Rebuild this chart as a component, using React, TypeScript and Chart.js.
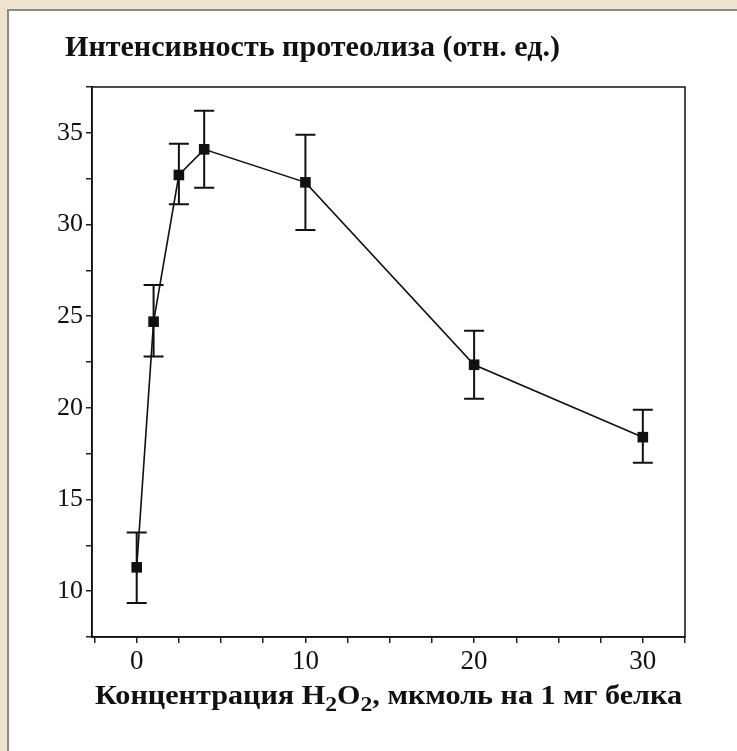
import React, { useEffect, useRef } from "react";
import { Chart, registerables } from "chart.js";

Chart.register(...registerables);

const X_VALUES = [0, 1, 2.5, 4, 10, 20, 30];
const Y_VALUES = [11.3, 24.7, 32.7, 34.1, 32.3, 22.35, 18.4];
const Y_UPPER = [13.2, 26.7, 34.4, 36.2, 34.9, 24.2, 19.9];
const Y_LOWER = [9.35, 22.8, 31.1, 32.0, 29.7, 20.5, 17.0];
const X_TICK_LABELS = [0, 10, 20, 30];
const Y_TICK_LABELS = [10, 15, 20, 25, 30, 35];
const X_MINOR_STEP = 2.5;
const Y_MINOR_STEP = 2.5;
const TITLE = "Интенсивность протеолиза (отн. ед.)";
const XTITLE_PARTS: [string, boolean][] = [
  ["Концентрация H", false],
  ["2", true],
  ["O", false],
  ["2", true],
  [", мкмоль на 1 мг белка", false],
];

const SERIF = "'Liberation Serif', 'Times New Roman', serif";

const decor = {
  id: "decor",
  beforeDatasetsDraw(chart: any) {
    const { ctx, scales } = chart;
    const xs = scales.x;
    const ys = scales.y;
    ctx.save();
    ctx.strokeStyle = "#111";
    ctx.lineWidth = 2;
    const half = 10;
    X_VALUES.forEach((xv, i) => {
      const px = xs.getPixelForValue(xv);
      const pt = ys.getPixelForValue(Y_UPPER[i]);
      const pb = ys.getPixelForValue(Y_LOWER[i]);
      ctx.beginPath();
      ctx.moveTo(px, pt);
      ctx.lineTo(px, pb);
      ctx.moveTo(px - half, pt);
      ctx.lineTo(px + half, pt);
      ctx.moveTo(px - half, pb);
      ctx.lineTo(px + half, pb);
      ctx.stroke();
    });
    ctx.restore();
  },
  afterDraw(chart: any) {
    const { ctx, chartArea } = chart;
    ctx.save();
    ctx.strokeStyle = "#111";
    ctx.lineWidth = 1.5;
    ctx.strokeRect(
      chartArea.left,
      chartArea.top,
      chartArea.right - chartArea.left,
      chartArea.bottom - chartArea.top
    );
    // title
    ctx.fillStyle = "#111";
    ctx.textBaseline = "alphabetic";
    ctx.textAlign = "left";
    ctx.font = `bold 29px ${SERIF}`;
    const tw = ctx.measureText(TITLE).width;
    ctx.save();
    ctx.translate(65, 56);
    ctx.scale(495 / tw, 1);
    ctx.fillText(TITLE, 0, 0);
    ctx.restore();
    // x title with subscripts
    const big = `bold 28px ${SERIF}`;
    const small = `bold 22px ${SERIF}`;
    let total = 0;
    XTITLE_PARTS.forEach(([t, sub]) => {
      ctx.font = sub ? small : big;
      total += ctx.measureText(t).width;
    });
    const sx = 587 / total;
    ctx.save();
    ctx.translate(95, 704);
    ctx.scale(sx, 1);
    let x = 0;
    XTITLE_PARTS.forEach(([t, sub]) => {
      ctx.font = sub ? small : big;
      ctx.fillText(t, x, sub ? 7 : 0);
      x += ctx.measureText(t).width;
    });
    ctx.restore();
    ctx.restore();
  },
};

function buildMinor(min: number, max: number, step: number) {
  const out: { value: number }[] = [];
  const start = Math.ceil(min / step) * step;
  for (let v = start; v <= max + 1e-9; v += step) out.push({ value: Math.round(v * 1000) / 1000 });
  return out;
}

export default function App() {
  const ref = useRef<HTMLCanvasElement | null>(null);
  useEffect(() => {
    if (!ref.current) return;
    const chart = new Chart(ref.current, {
      type: "line",
      data: {
        datasets: [
          {
            data: X_VALUES.map((x, i) => ({ x, y: Y_VALUES[i] })),
            borderColor: "#111",
            borderWidth: 1.6,
            pointStyle: "rect",
            pointRadius: 7.5,
            pointBackgroundColor: "#111",
            pointBorderColor: "#111",
            pointBorderWidth: 0,
            tension: 0,
          },
        ],
      },
      options: {
        animation: false,
        responsive: false,
        maintainAspectRatio: false,
        events: [],
        layout: { padding: { top: 87, right: 52, left: 0, bottom: 0 } },
        plugins: {
          legend: { display: false },
          tooltip: { enabled: false },
          title: { display: false },
        },
        scales: {
          x: {
            type: "linear",
            min: -2.65,
            max: 32.5,
            afterBuildTicks: (scale: any) => {
              scale.ticks = buildMinor(scale.min, scale.max, X_MINOR_STEP);
            },
            afterFit: (scale: any) => {
              scale.height = 114;
            },
            grid: {
              drawOnChartArea: false,
              drawTicks: true,
              tickLength: 6,
              color: "#222",
              lineWidth: 1.5,
            },
            border: { display: true, color: "#111", width: 1.5 },
            ticks: {
              autoSkip: false,
              maxRotation: 0,
              padding: 3,
              color: "#111",
              font: { family: SERIF, size: 27 },
              callback: (v: any) => (X_TICK_LABELS.includes(Number(v)) ? String(v) : ""),
            },
          },
          y: {
            type: "linear",
            min: 7.5,
            max: 37.5,
            afterBuildTicks: (scale: any) => {
              scale.ticks = buildMinor(scale.min, scale.max, Y_MINOR_STEP);
            },
            afterFit: (scale: any) => {
              scale.width = 92;
            },
            grid: {
              drawOnChartArea: false,
              drawTicks: true,
              tickLength: 6,
              color: "#222",
              lineWidth: 1.5,
            },
            border: { display: true, color: "#111", width: 1.5 },
            ticks: {
              autoSkip: false,
              padding: 3,
              color: "#111",
              font: { family: SERIF, size: 26 },
              callback: (v: any) => (Y_TICK_LABELS.includes(Number(v)) ? String(v) : ""),
            },
          },
        },
      },
      plugins: [decor],
    } as any);
    return () => chart.destroy();
  }, []);

  return (
    <div style={{ position: "fixed", left: 0, top: 0, width: 737, height: 751, background: "#EFE5CF", overflow: "hidden" }}>
      <div
        style={{
          position: "absolute",
          left: 7,
          top: 9,
          width: 760,
          height: 780,
          background: "#fff",
          borderLeft: "2px solid #8a8a8a",
          borderTop: "2px solid #8a8a8a",
        }}
      />
      <canvas ref={ref} width={737} height={751} style={{ position: "absolute", left: 0, top: 0, width: 737, height: 751 }} />
    </div>
  );
}
